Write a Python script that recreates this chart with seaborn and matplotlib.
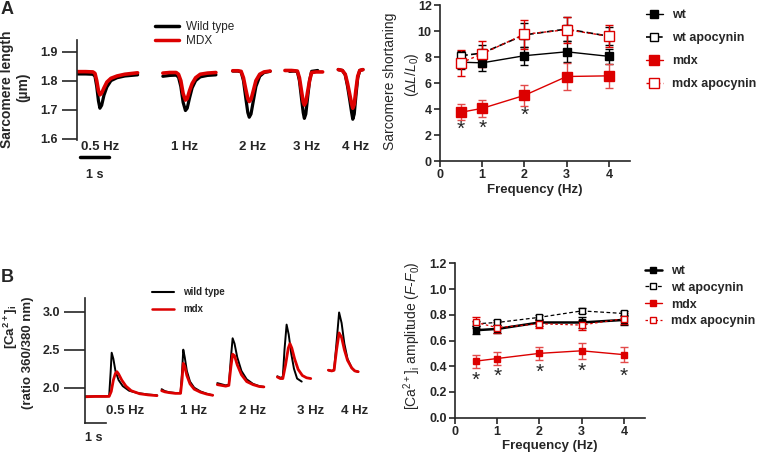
import matplotlib
matplotlib.use('Agg')
import matplotlib.pyplot as plt
import seaborn as sns

sns.set_style('ticks')
plt.rcParams['font.family'] = ['Liberation Sans', 'DejaVu Sans']
plt.rcParams['mathtext.fontset'] = 'custom'
plt.rcParams['mathtext.rm'] = 'Liberation Sans'
plt.rcParams['mathtext.it'] = 'Liberation Sans:italic'
plt.rcParams['mathtext.bf'] = 'Liberation Sans:bold'

RED = '#dc0000'

# ---------------- data ----------------
freq = [0.5, 1, 2, 3, 4]
freq_labels = ['0.5 Hz', '1 Hz', '2 Hz', '3 Hz', '4 Hz']
groups = ['wt', 'wt apocynin', 'mdx', 'mdx apocynin']

# A: sarcomere length traces (s, um), one list per pacing frequency
sl_t_wt = [
    [0.0, 0.3, 0.55, 0.62, 0.68, 0.74, 0.79, 0.85, 0.93, 1.03, 1.17, 1.38, 1.65, 2.09],
    [2.96, 3.2, 3.42, 3.5, 3.58, 3.66, 3.74, 3.8, 3.88, 3.97, 4.09, 4.25, 4.5, 4.79],
    [5.37, 5.55, 5.66, 5.74, 5.82, 5.89, 5.94, 6.0, 6.08, 6.17, 6.3, 6.45, 6.66],
    [7.33, 7.5, 7.6, 7.67, 7.74, 7.8, 7.84, 7.89, 7.95, 8.02, 8.09, 8.3],
    [9.01, 9.15, 9.25, 9.33, 9.41, 9.47, 9.51, 9.56, 9.62, 9.68, 9.75, 9.86],
]
sl_wt = [
    [1.823, 1.823, 1.822, 1.815, 1.78, 1.73, 1.705, 1.715, 1.75, 1.778, 1.80, 1.81, 1.816, 1.82],
    [1.815, 1.818, 1.819, 1.812, 1.78, 1.725, 1.697, 1.705, 1.74, 1.775, 1.80, 1.813, 1.818, 1.82],
    [1.833, 1.833, 1.83, 1.80, 1.74, 1.69, 1.674, 1.685, 1.73, 1.78, 1.815, 1.828, 1.832],
    [1.832, 1.833, 1.831, 1.80, 1.74, 1.69, 1.670, 1.685, 1.74, 1.80, 1.832, 1.835],
    [1.838, 1.835, 1.82, 1.78, 1.73, 1.69, 1.667, 1.685, 1.75, 1.81, 1.835, 1.838],
]
sl_t_mdx = [
    [0.0, 0.3, 0.55, 0.62, 0.68, 0.74, 0.79, 0.85, 0.93, 1.03, 1.17, 1.38, 1.65, 2.09],
    [2.96, 3.2, 3.42, 3.5, 3.58, 3.66, 3.74, 3.8, 3.88, 3.97, 4.09, 4.25, 4.5, 4.79],
    [5.37, 5.55, 5.66, 5.74, 5.82, 5.89, 5.94, 6.0, 6.08, 6.17, 6.3, 6.45, 6.66],
    [7.17, 7.4, 7.6, 7.67, 7.74, 7.8, 7.84, 7.89, 7.95, 8.02, 8.09, 8.25, 8.47],
    [9.01, 9.15, 9.25, 9.33, 9.41, 9.47, 9.51, 9.56, 9.62, 9.68, 9.75, 9.86],
]
sl_mdx = [
    [1.831, 1.831, 1.830, 1.825, 1.80, 1.765, 1.751, 1.757, 1.775, 1.795, 1.808, 1.816, 1.822, 1.827],
    [1.826, 1.828, 1.828, 1.822, 1.80, 1.755, 1.733, 1.738, 1.765, 1.79, 1.81, 1.822, 1.826, 1.828],
    [1.834, 1.834, 1.832, 1.81, 1.77, 1.738, 1.728, 1.735, 1.765, 1.80, 1.822, 1.83, 1.833],
    [1.835, 1.835, 1.833, 1.81, 1.765, 1.727, 1.716, 1.725, 1.76, 1.80, 1.828, 1.83, 1.83],
    [1.838, 1.835, 1.822, 1.79, 1.75, 1.72, 1.705, 1.718, 1.77, 1.815, 1.835, 1.838],
]

# B: Ca2+ transients (s, fura-2 ratio 360/380)
ca_t_wt = [
    [0, 0.5, 1.0, 1.15, 1.22, 1.27, 1.35, 1.45, 1.6, 1.8, 2.1, 2.5, 3.0, 3.43],
    [3.65, 3.8, 4.0, 4.3, 4.55, 4.62, 4.68, 4.75, 4.85, 5.0, 5.2, 5.5, 5.8, 6.08],
    [6.30, 6.5, 6.7, 6.85, 6.95, 7.03, 7.12, 7.25, 7.45, 7.7, 8.0, 8.3, 8.52],
    [9.16, 9.3, 9.42, 9.5, 9.6, 9.7, 9.82, 9.95, 10.1, 10.32],
    [11.59, 11.75, 11.86, 11.98, 12.1, 12.22, 12.35, 12.5, 12.7, 12.85, 13.01],
]
ca_wt = [
    [1.885, 1.885, 1.885, 1.89, 2.2, 2.46, 2.38, 2.22, 2.1, 2.02, 1.96, 1.93, 1.91, 1.90],
    [1.98, 1.955, 1.94, 1.93, 1.93, 2.2, 2.50, 2.40, 2.22, 2.08, 2.0, 1.95, 1.92, 1.90],
    [2.06, 2.045, 2.03, 2.04, 2.4, 2.65, 2.58, 2.4, 2.22, 2.11, 2.05, 2.02, 2.01],
    [2.15, 2.13, 2.14, 2.5, 2.83, 2.7, 2.45, 2.25, 2.12, 2.08],
    [2.23, 2.22, 2.23, 2.6, 2.99, 2.85, 2.58, 2.38, 2.26, 2.22, 2.21],
]
ca_t_mdx = [
    [0, 0.5, 1.0, 1.15, 1.25, 1.35, 1.45, 1.52, 1.6, 1.75, 1.95, 2.2, 2.6, 3.0, 3.43],
    [3.65, 3.8, 4.0, 4.3, 4.55, 4.62, 4.68, 4.75, 4.85, 5.0, 5.2, 5.5, 5.8, 6.08],
    [6.30, 6.5, 6.7, 6.85, 6.95, 7.03, 7.12, 7.25, 7.45, 7.7, 8.0, 8.3, 8.52],
    [9.16, 9.3, 9.42, 9.55, 9.68, 9.76, 9.85, 9.98, 10.15, 10.35, 10.55, 10.75],
    [11.59, 11.75, 11.86, 11.98, 12.1, 12.22, 12.35, 12.5, 12.7, 12.85, 13.01],
]
ca_mdx = [
    [1.88, 1.885, 1.885, 1.885, 1.95, 2.1, 2.19, 2.21, 2.18, 2.1, 2.02, 1.96, 1.92, 1.905, 1.895],
    [1.96, 1.945, 1.935, 1.925, 1.925, 2.1, 2.32, 2.28, 2.16, 2.05, 1.98, 1.94, 1.915, 1.90],
    [2.04, 2.03, 2.02, 2.03, 2.28, 2.44, 2.42, 2.3, 2.17, 2.08, 2.04, 2.015, 2.01],
    [2.14, 2.12, 2.12, 2.3, 2.52, 2.58, 2.52, 2.38, 2.24, 2.16, 2.13, 2.12],
    [2.23, 2.22, 2.23, 2.5, 2.72, 2.66, 2.5, 2.36, 2.26, 2.22, 2.21],
]

# sarcomere shortening (dL/L0, %) mean and SEM
short_mean = {
    'wt': [7.6, 7.55, 8.1, 8.4, 8.05],
    'wt apocynin': [8.1, 8.3, 9.7, 10.15, 9.6],
    'mdx': [3.75, 4.05, 5.05, 6.5, 6.55],
    'mdx apocynin': [7.55, 8.25, 9.75, 10.1, 9.6],
}
short_sem = {
    'wt': [0.5, 0.6, 0.7, 0.8, 0.6],
    'wt apocynin': [0.4, 0.6, 0.9, 0.9, 0.7],
    'mdx': [0.6, 0.65, 0.8, 1.05, 0.95],
    'mdx apocynin': [1.0, 1.0, 1.1, 1.0, 0.85],
}
short_star_x = [0.5, 1, 2]
short_star_y = [2.4, 2.5, 3.5]

# Ca2+ transient amplitude (F-F0) mean and SEM
amp_mean = {
    'wt': [0.68, 0.69, 0.74, 0.74, 0.76],
    'wt apocynin': [0.73, 0.74, 0.78, 0.83, 0.81],
    'mdx': [0.44, 0.46, 0.50, 0.52, 0.49],
    'mdx apocynin': [0.74, 0.70, 0.73, 0.72, 0.77],
}
amp_sem = {
    'wt': [0.03, 0.03, 0.03, 0.04, 0.04],
    'wt apocynin': [0.02, 0.02, 0.02, 0.02, 0.02],
    'mdx': [0.05, 0.05, 0.05, 0.06, 0.06],
    'mdx apocynin': [0.04, 0.04, 0.03, 0.04, 0.04],
}
amp_star_x = [0.5, 1, 2, 3, 4]
amp_star_y = [0.29, 0.32, 0.35, 0.36, 0.32]

# ---------------- styles ----------------
W, H = 760, 454


def fx(px):
    return px / W


def fy(py):
    return 1 - py / H


style_a = {
    'wt': dict(color='k', ls='-', lw=1.0, mfc='k', ms=5.5, ecol='k'),
    'wt apocynin': dict(color='k', ls=(0, (4, 2)), lw=1.2, mfc='white', ms=6, ecol='k'),
    'mdx': dict(color=RED, ls='-', lw=1.0, mfc=RED, ms=7, ecol='#e34a4a'),
    'mdx apocynin': dict(color=RED, ls=(0, (2, 2)), lw=1.0, mfc='white', ms=6.5, ecol=RED),
}
style_b = {
    'wt': dict(color='k', ls='-', lw=1.8, mfc='k', ms=4.5, ecol='k'),
    'wt apocynin': dict(color='k', ls=(0, (3, 2)), lw=0.9, mfc='white', ms=5, ecol='k'),
    'mdx': dict(color=RED, ls='-', lw=1.0, mfc=RED, ms=5, ecol='#e34a4a'),
    'mdx apocynin': dict(color=RED, ls=(0, (2, 2)), lw=0.9, mfc='white', ms=5, ecol=RED),
}

fig = plt.figure(figsize=(7.6, 4.54), dpi=100)


def trace_axes(ax):
    for s in ['top', 'right']:
        ax.spines[s].set_visible(False)
    ax.set_xticks([])
    ax.set_xlabel('')
    ax.set_ylabel('')
    ax.spines['left'].set_linewidth(1.2)
    for lab in ax.get_yticklabels():
        lab.set_fontweight('bold')
        lab.set_fontsize(9)


# ---- A: sarcomere traces ----
axA = fig.add_axes([fx(77), fy(140), fx(373 - 77), 100 / H])
for t, v in zip(sl_t_wt, sl_wt):
    sns.lineplot(x=t, y=v, color='k', lw=2.3, sort=False, ax=axA, legend=False)
for t, v in zip(sl_t_mdx, sl_mdx):
    sns.lineplot(x=t, y=v, color=RED, lw=2.6, sort=False, ax=axA, legend=False)
axA.set_xlim(0, 296 / 29)
axA.set_ylim(1.5955, 1.940)
axA.set_yticks([1.6, 1.7, 1.8, 1.9])
axA.tick_params(axis='y', length=11, width=1.2, pad=3)
trace_axes(axA)
axA.spines['bottom'].set_visible(False)
axA.plot([0.1, 1.1], [1.537, 1.537], color='k', lw=2.5, clip_on=False)
axA.legend(handles=[plt.Line2D([], [], color='k', lw=2.5), plt.Line2D([], [], color=RED, lw=2.5)],
           labels=['Wild type', 'MDX'], loc='upper left', bbox_to_anchor=(fx(155), fy(21)),
           bbox_transform=fig.transFigure, frameon=False, fontsize=8.5, handlelength=2.0,
           handletextpad=0.6, labelspacing=0.15, borderpad=0, borderaxespad=0)

for px, lab in zip([100.5, 185, 253, 306.7, 356], freq_labels):
    fig.text(fx(px), fy(147), lab, ha='center', va='center', fontsize=9.5, weight='bold')
fig.text(fx(95), fy(175), '1 s', ha='center', va='center', fontsize=9, weight='bold')
fig.text(fx(7.5), fy(89), 'Sarcomere length', rotation=90, ha='center', va='center',
         fontsize=10, weight='bold')
fig.text(fx(23), fy(87), '(µm)', rotation=90, ha='center', va='center', fontsize=10, weight='bold')
fig.text(fx(1), fy(10), 'A', ha='left', va='center', fontsize=13, weight='bold')

# ---- B: Ca2+ traces ----
axB = fig.add_axes([fx(85), fy(423), fx(373 - 85), 125 / H])
for t, v in zip(ca_t_wt, ca_wt):
    sns.lineplot(x=t, y=v, color='k', lw=1.4, sort=False, ax=axB, legend=False)
for t, v in zip(ca_t_mdx, ca_mdx):
    sns.lineplot(x=t, y=v, color=RED, lw=2.0, sort=False, ax=axB, legend=False)
axB.set_xlim(0, 288 / 21)
axB.set_ylim(1.535, 3.18)
axB.set_yticks([2.0, 2.5, 3.0])
axB.tick_params(axis='y', length=15, width=1.2, pad=3)
trace_axes(axB)
axB.spines['bottom'].set_bounds(0, 1)
axB.spines['bottom'].set_linewidth(1.2)
axB.legend(handles=[plt.Line2D([], [], color='k', lw=1.5), plt.Line2D([], [], color=RED, lw=1.8)],
           labels=['wild type', 'mdx'], loc='upper left', bbox_to_anchor=(fx(152), fy(287)),
           bbox_transform=fig.transFigure, frameon=False, prop=dict(size=7, weight='bold'),
           handlelength=2.3, handletextpad=0.9, labelspacing=0.75, borderpad=0, borderaxespad=0)

for px, lab in zip([125, 193.3, 253, 311, 355], freq_labels):
    fig.text(fx(px), fy(411), lab, ha='center', va='center', fontsize=9.5, weight='bold')
fig.text(fx(94), fy(438), '1 s', ha='center', va='center', fontsize=9, weight='bold')
fig.text(fx(10.5), fy(327), r'[Ca$^{\mathbf{2+}}$]$_{\mathbf{i}}$', rotation=90, ha='center',
         va='center', fontsize=9.5, weight='bold')
fig.text(fx(27.5), fy(353), '(ratio 360/380 nm)', rotation=90, ha='center', va='center',
         fontsize=9.5, weight='bold')
fig.text(fx(1), fy(277), 'B', ha='left', va='center', fontsize=13, weight='bold')


# ---- summary plots ----
def summary(ax, means, sems, styles, stars_x, stars_y, leg_xy, leg_space):
    for g in groups:
        st = styles[g]
        ax.errorbar(freq, means[g], yerr=sems[g], fmt='none', ecolor=st['ecol'],
                    elinewidth=1.0, capsize=3, capthick=1.0, zorder=2)
        sns.lineplot(x=freq, y=means[g], color=st['color'], linestyle=st['ls'], lw=st['lw'],
                     marker='s', markersize=st['ms'], markerfacecolor=st['mfc'],
                     markeredgecolor=st['color'], markeredgewidth=1.0, label=g, ax=ax, zorder=3)
    for x, y in zip(stars_x, stars_y):
        ax.text(x, y, '*', ha='center', va='center', fontsize=15)
    handles, labels = ax.get_legend_handles_labels()
    if ax.get_legend():
        ax.get_legend().remove()
    fig.legend(handles, labels, loc='upper left', bbox_to_anchor=leg_xy,
               frameon=False, prop=dict(size=9, weight='bold'), handlelength=1.35,
               handletextpad=0.75, labelspacing=leg_space, borderpad=0, borderaxespad=0)
    for s in ['top', 'right']:
        ax.spines[s].set_visible(False)
    for s in ['left', 'bottom']:
        ax.spines[s].set_linewidth(1.2)
    ax.set_xlim(0, 4.5)
    ax.set_xticks([0, 1, 2, 3, 4])
    ax.tick_params(length=4, width=1.2, pad=2)
    ax.set_xlabel('')
    ax.set_ylabel('')
    for lab in ax.get_xticklabels() + ax.get_yticklabels():
        lab.set_fontweight('bold')
        lab.set_fontsize(9)


axS = fig.add_axes([fx(440), fy(161), 190 / W, 156 / H])
axS.set_ylim(0, 12)
axS.set_yticks(range(0, 13, 2))
summary(axS, short_mean, short_sem, style_a, short_star_x, short_star_y, (fx(646), fy(9)), 0.88)
axS.set_ylim(0, 12)
fig.text(fx(534.5), fy(190), 'Frequency (Hz)', ha='center', va='center', fontsize=9.5, weight='bold')
fig.text(fx(390), fy(81.5), 'Sarcomere shortaning', rotation=90, ha='center', va='center', fontsize=10)
fig.text(fx(412), fy(75), r'(Δ$\it{L}$/$\it{L}_0$)', rotation=90, ha='center', va='center', fontsize=10)

axC = fig.add_axes([fx(455), fy(417.7), 190 / W, 154.4 / H])
axC.set_ylim(0, 1.2)
axC.set_yticks([0.0, 0.2, 0.4, 0.6, 0.8, 1.0, 1.2])
axC.set_yticklabels(['0.0', '0.2', '0.4', '0.6', '0.8', '1.0', '1.2'])
summary(axC, amp_mean, amp_sem, style_b, amp_star_x, amp_star_y, (fx(645), fy(265)), 0.38)
axC.set_ylim(0, 1.2)
fig.text(fx(550), fy(446), 'Frequency (Hz)', ha='center', va='center', fontsize=9.5, weight='bold')
fig.text(fx(412), fy(336), r'[Ca$^{2+}$]$_\mathrm{i}$ amplitude ($\it{F}$-$\it{F}_0$)', rotation=90,
         ha='center', va='center', fontsize=10)

fig.savefig('out.png', dpi=100)
